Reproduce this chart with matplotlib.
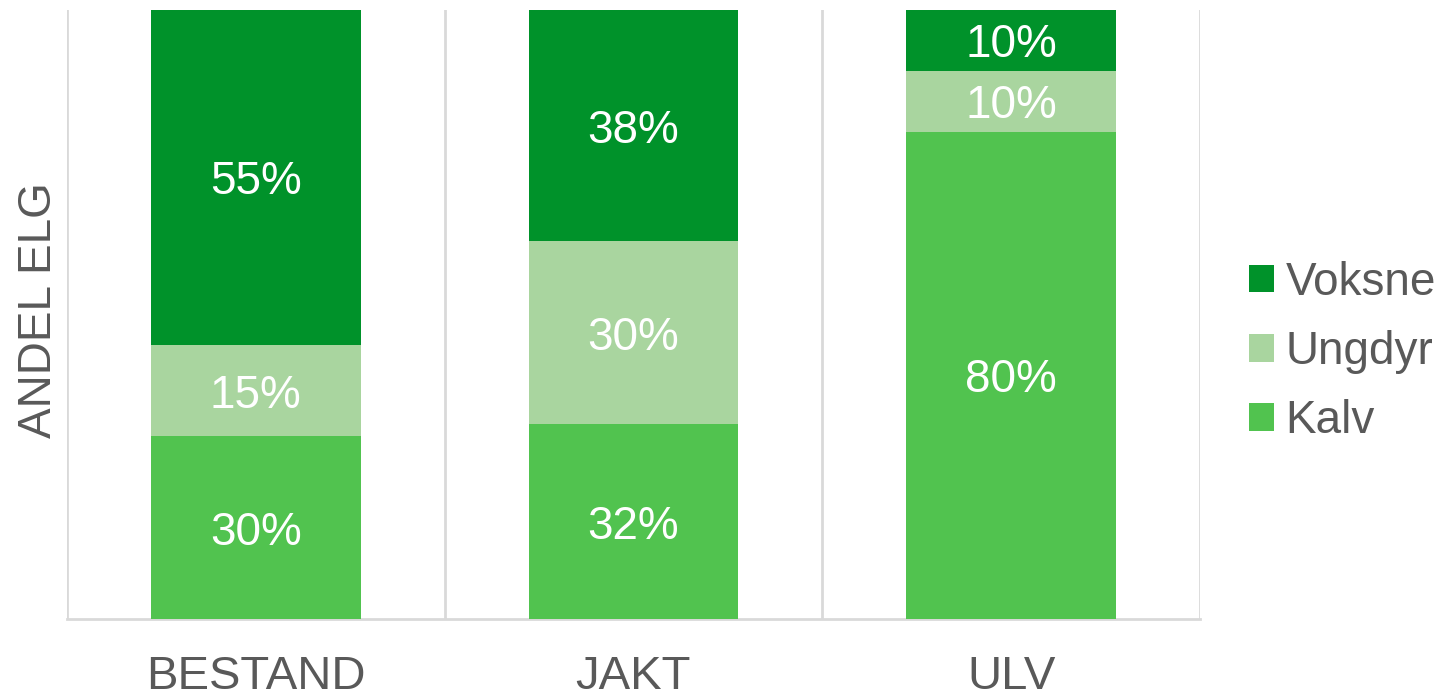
import matplotlib.pyplot as plt
import numpy as np

plt.rcParams['font.family'] = ['Liberation Sans', 'DejaVu Sans']

# data
categories = ['BESTAND', 'JAKT', 'ULV']
series_names = ['Kalv', 'Ungdyr', 'Voksne']
kalv = [30, 32, 80]
ungdyr = [15, 30, 10]
voksne = [55, 38, 10]
colors = ['#51C34F', '#A9D59F', '#00922A']

grey = '#595959'

fig = plt.figure(figsize=(14.5, 6.98), dpi=100)
ax = fig.add_axes([67/1450, 1-619/698, (1200-67)/1450, (619-10)/698])

x = np.arange(len(categories))
bottom = np.zeros(len(categories))
bars = []
for name, vals, col in zip(series_names, [kalv, ungdyr, voksne], colors):
    b = ax.bar(x, vals, width=0.556, bottom=bottom, color=col, label=name, zorder=3)
    for xi, v, b0 in zip(x, vals, bottom):
        ax.annotate(f'{v}%', (xi, b0 + v/2), xytext=(0, -3.6), textcoords='offset points',
                    ha='center', va='center', color='white', fontsize=33, zorder=4)
    bottom = bottom + np.array(vals)
    bars.append(b)

ax.set_xlim(-0.5, 2.5)
ax.set_ylim(0, 100)
ax.set_yticks([])
ax.set_xticks(x)
ax.set_xticklabels(categories, fontsize=34, color=grey)
ax.tick_params(axis='x', length=0, pad=26)

# category separators
for xs in [-0.5, 0.5, 1.5, 2.5]:
    ax.axvline(xs, color='#D9D9D9', lw=2, zorder=1)
for s in ['top', 'right', 'left']:
    ax.spines[s].set_visible(False)
ax.spines['bottom'].set_color('#D9D9D9')
ax.spines['bottom'].set_linewidth(2)

fig.text(39/1450, 1-310/698, 'ANDEL ELG', rotation=90, ha='center', va='center',
         fontsize=33, color=grey)

handles = [bars[2], bars[1], bars[0]]
leg = fig.legend(handles, ['Voksne', 'Ungdyr', 'Kalv'], loc='center left',
                 bbox_to_anchor=(1249/1450, 1-352/698), frameon=False,
                 fontsize=33, handlelength=0.55, handleheight=0.55,
                 handletextpad=0.25, labelspacing=0.55, borderpad=0, borderaxespad=0)
for t in leg.get_texts():
    t.set_color(grey)

fig.savefig('out.png', dpi=100)
